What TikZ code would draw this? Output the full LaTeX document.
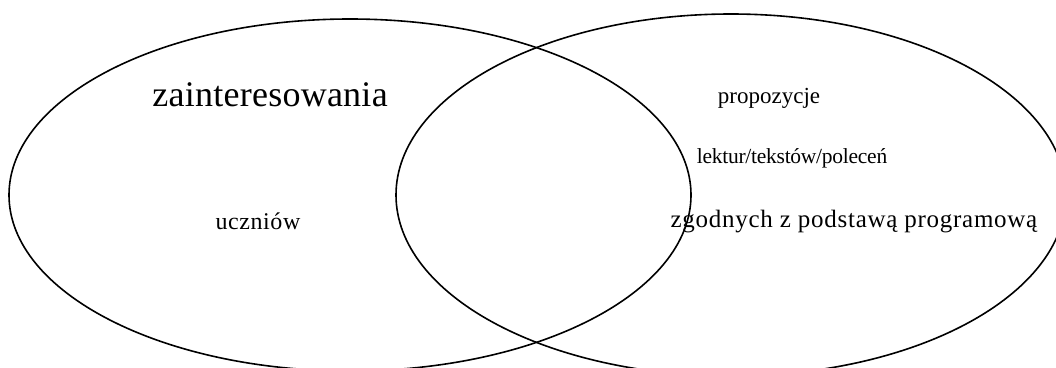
\documentclass[tikz,border=0pt]{standalone}
\usepackage{fontspec}
\setmainfont{Liberation Serif}
\begin{document}
\begin{tikzpicture}[x=1pt,y=-1pt,
  venn/.style={draw=black,line width=1.6pt},
  txt/.style={inner sep=0pt}]
\useasboundingbox (0,0) rectangle (1056,367);
\begin{scope}
\clip (0,0) rectangle (1056,367);
\draw[venn] (350,195) ellipse [x radius=341, y radius=176];
\draw[venn] (731,195) ellipse [x radius=335, y radius=181];
\end{scope}
\node[txt,font=\fontsize{36}{40}\selectfont] (zai) at (270,95) {\addfontfeature{LetterSpace=0.7}zainteresowania};
\node[txt,font=\fontsize{24}{28}\selectfont] (ucz) at (258,221) {\addfontfeature{LetterSpace=2.4}uczniów};
\node[txt,font=\fontsize{23}{27}\selectfont] (pro) at (769,98) {propozycje};
\node[txt,font=\fontsize{21.5}{25}\selectfont] (lek) at (792,158) {\addfontfeature{LetterSpace=-1.2}lektur/tekstów/poleceń};
\node[txt,font=\fontsize{25}{29}\selectfont] (zgo) at (854,222) {\addfontfeature{LetterSpace=2.9}zgodnych z podstawą programową};
\end{tikzpicture}
\end{document}
